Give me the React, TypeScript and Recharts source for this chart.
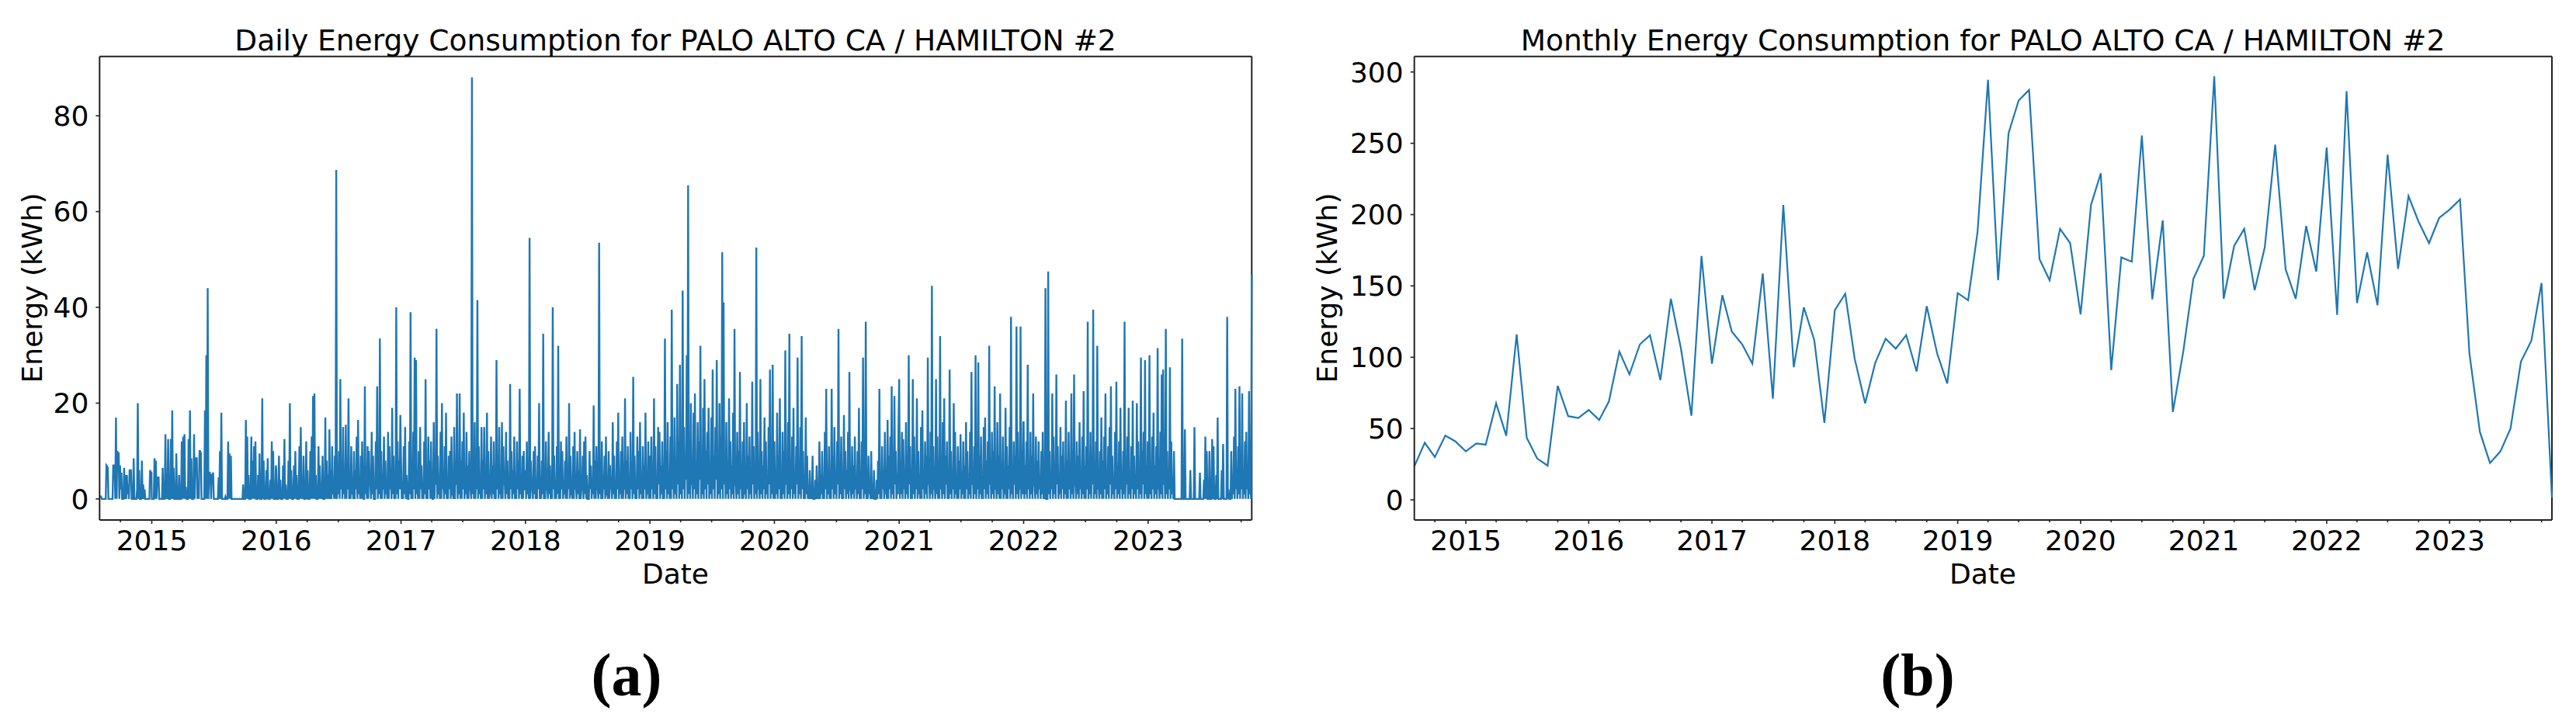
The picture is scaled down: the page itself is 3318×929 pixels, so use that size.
import React from 'react';
import { LineChart, Line, XAxis, YAxis, ReferenceLine } from 'recharts';

const BLUE = '#1f77b4';
const AXIS = '#222';
const FONT = '"DejaVu Sans", Verdana, sans-serif';
const DAY = 86400000;

// daily energy (kWh), one reading every 2 days
const daily2014 = [
  0.5, 0.5, 0.5, 0, 0, 0, 0, 0, 0, 0, 7, 6.8, 6.5, 0, 0, 0, 0, 0, 0, 0,
  7, 7, 7, 0, 17, 0, 10, 9.5, 9.5, 0, 7, 2, 5.5, 0, 0, 0, 6.5, 0, 5, 0,
  5, 1, 3, 0, 6, 6, 6, 0, 0, 0, 8.5, 0, 0, 0, 0, 2, 20, 0, 6, 0,
  0, 0, 8, 0, 3, 0, 2, 0, 0, 0, 0, 0, 0, 0, 6, 5.5, 5.5,
];
const daily2015 = [
  0, 0, 0, 0, 8.5, 0, 8, 0, 4.5, 4.5, 4.5, 0, 0, 0, 0, 0, 6.5, 0, 0, 0,
  13.5, 0, 5, 0, 12.5, 0, 0, 0, 12.5, 0, 18.5, 0, 6.5, 0, 0, 0, 9.5, 0, 0, 0,
  5, 0, 0, 0, 12, 0, 13, 0, 13.5, 0, 2.5, 0, 0, 0, 12.5, 0, 18.5, 0, 8.5, 0,
  0, 0, 13.5, 0, 8.5, 8.5, 8.5, 0, 1.5, 0, 10, 10, 9.5, 0, 0, 0, 0, 0, 18.5, 0,
  30, 0, 44, 0, 5.5, 5.5, 5, 0, 5, 5, 5.5, 0, 0, 0, 0, 0, 0, 0, 4.5, 0,
  10, 0, 18, 0, 0, 0, 0, 0, 0.5, 0, 0, 0, 12, 0, 9.5, 0, 9, 0, 0, 0,
  0, 0, 0, 0, 0, 0, 0, 0, 0, 0, 0, 0, 0, 0, 3, 0, 0, 0, 16.5, 0,
  13, 0, 5, 0, 0, 0, 13, 0, 8, 0, 11, 0, 12, 0, 0, 0, 5, 0, 9.5, 0,
  0, 0, 21, 0, 8, 0, 0, 0, 6, 0, 8.5, 0, 0, 0, 4, 0, 12, 0, 10, 0,
  0, 0, 7,
];
const daily2016 = [
  6, 0, 0, 0, 9, 0, 4, 0, 0, 0, 7, 0, 12.5, 0, 3, 0, 0, 0, 8, 0,
  20, 0, 6, 0, 0, 0, 7, 0, 10, 0, 5, 0, 0, 0, 11, 0, 15, 0, 4, 0,
  9, 0, 0, 0, 12, 0, 6, 0, 0, 0, 10, 0, 13, 0, 21.5, 0, 22, 0, 5, 0,
  0, 0, 11, 0, 7, 0, 3, 0, 9, 0, 0, 0, 17, 0, 8, 0, 5, 0, 14.5, 0,
  6, 0, 11, 1, 2, 0, 9, 0, 68.7, 0, 4, 1, 10, 0, 25, 2, 8, 0, 15, 1,
  3, 0, 15.5, 0, 7, 2, 21, 0, 5, 0, 11, 1, 2, 0, 10, 0, 6, 2, 13, 0,
  16.5, 1, 4, 0, 9, 0, 12, 2, 0, 0, 23.5, 1, 7, 0, 11, 0, 10, 3, 3, 0,
  14, 1, 9, 0, 0, 0, 12, 2, 23.5, 0, 6, 1, 33.5, 0, 10, 0, 4, 2, 13, 0,
  8, 1, 2, 0, 14, 0, 11, 2, 6, 0, 19, 1, 9, 0, 3, 0, 40, 1, 12, 0,
  8, 2, 17.5,
];
const daily2017 = [
  8, 0, 2, 0, 11, 1, 15, 0, 5, 2, 0, 0, 12, 1, 39, 0, 6, 0, 14, 2,
  29.5, 0, 29, 1, 3, 0, 10, 0, 15, 2, 7, 0, 1, 0, 12, 1, 25, 0, 4, 0,
  13, 2, 8, 0, 12, 1, 0, 0, 16, 0, 6, 3, 35.5, 0, 9, 1, 3, 0, 14, 0,
  20, 2, 5, 0, 11, 1, 18, 0, 2, 0, 9, 2, 10, 0, 13, 1, 1, 0, 15, 0,
  6, 3, 22, 0, 4, 1, 22, 0, 8, 0, 12, 2, 18, 0, 3, 1, 14, 0, 7, 0,
  10, 2, 2, 0, 88, 1, 9, 0, 16, 0, 5, 2, 41.5, 0, 11, 1, 3, 0, 15, 0,
  8, 2, 15, 0, 4, 1, 18, 0, 10, 0, 1, 2, 13, 0, 7, 1, 12, 0, 3, 0,
  29, 2, 9, 0, 15, 1, 2, 0, 16, 0, 11, 3, 4, 0, 14, 1, 8, 0, 1, 0,
  24, 2, 10, 0, 6, 1, 13, 0, 3, 0, 12, 2, 8, 0, 23, 1, 5, 0, 9, 0,
  10, 2, 2,
];
const daily2018 = [
  6, 0, 12, 1, 3, 0, 54.5, 0, 8, 2, 2, 0, 10, 1, 11, 0, 4, 0, 9, 2,
  20, 0, 1, 0, 8, 1, 34.5, 0, 5, 0, 12, 2, 2, 0, 14, 1, 7, 0, 3, 0,
  40, 2, 9, 0, 1, 0, 11, 1, 32, 0, 6, 0, 12, 2, 10, 0, 2, 1, 8, 0,
  13, 0, 4, 2, 20, 0, 9, 1, 1, 0, 11, 0, 14, 2, 3, 0, 10, 1, 6, 0,
  14.5, 0, 2, 2, 9, 0, 12, 1, 13, 0, 5, 0, 0, 0, 10, 2, 7, 0, 3, 1,
  19.5, 0, 8, 0, 11, 2, 2, 0, 53.5, 1, 6, 0, 12, 0, 4, 2, 9, 0, 13, 1,
  1, 0, 10, 0, 7, 2, 3, 0, 16, 1, 9, 0, 2, 0, 12, 2, 18, 0, 5, 1,
  10, 0, 13, 0, 3, 2, 21, 0, 8, 1, 11, 0, 2, 0, 14, 2, 6, 0, 25.5, 1,
  9, 0, 3, 0, 13, 2, 10, 0, 16, 1, 4, 0, 11, 0, 7, 2, 18, 0, 2, 1,
  12, 0, 8,
];
const daily2019 = [
  9, 0, 13, 2, 4, 0, 21, 1, 11, 0, 2, 0, 15, 3, 14, 0, 7, 1, 12, 0,
  3, 0, 33.5, 2, 10, 0, 16, 1, 5, 0, 13, 0, 39.5, 2, 8, 0, 17, 1, 3, 0,
  24, 3, 12, 0, 28, 1, 6, 0, 43.5, 2, 15, 0, 9, 4, 30, 0, 65.5, 1, 11, 0,
  20, 3, 4, 0, 18, 2, 22, 0, 7, 1, 16, 0, 12, 4, 32, 0, 3, 1, 19, 0,
  25, 2, 10, 0, 14, 3, 19, 0, 5, 1, 17, 0, 27, 2, 9, 0, 15, 4, 29, 0,
  6, 1, 20, 0, 13, 2, 51.5, 0, 41, 3, 8, 0, 16, 1, 4, 0, 21, 2, 12, 0,
  7, 1, 18, 0, 35.5, 3, 3, 0, 14, 1, 10, 0, 26.5, 2, 5, 0, 12, 0, 16, 1,
  2, 0, 20, 2, 9, 0, 13, 1, 4, 0, 24.5, 3, 11, 0, 6, 1, 52.5, 0, 14, 2,
  3, 0, 25, 1, 10, 0, 7, 2, 17, 0, 12, 1, 4, 0, 15, 3, 27, 0, 8, 1,
  28, 0, 11,
];
const daily2020 = [
  12, 0, 5, 1, 18, 0, 9, 2, 21, 0, 3, 0, 14, 1, 10, 0, 31, 3, 6, 0,
  16, 1, 34.5, 0, 8, 2, 13, 0, 19, 1, 4, 0, 11, 3, 29.5, 0, 7, 1, 15, 0,
  34, 2, 10, 0, 3, 0, 17, 1, 9, 0, 2, 0, 6, 0, 1, 0, 9, 0, 0, 0,
  4, 0, 7, 0, 1, 0, 12, 0, 5, 1, 10, 0, 3, 0, 14, 2, 23, 0, 6, 1,
  11, 0, 2, 0, 23, 2, 9, 0, 15, 1, 4, 0, 12, 3, 35.5, 0, 8, 1, 13, 0,
  3, 0, 17.5, 2, 10, 0, 6, 1, 14, 0, 26.5, 2, 2, 0, 11, 1, 7, 0, 13, 2,
  4, 0, 10, 1, 19, 0, 3, 0, 12, 2, 29.5, 0, 8, 1, 37, 0, 5, 0, 9, 1,
  2, 0, 10, 0, 1, 0, 6, 0, 0, 0, 4, 0, 8, 1, 23, 0, 3, 0, 11, 2,
  6, 0, 14, 1, 2, 0, 16.5, 0, 9, 2, 13, 0, 23.5, 1, 5, 0, 21.5, 3, 10, 0,
  3, 1, 15,
];
const daily2021 = [
  25, 0, 8, 1, 14, 0, 12.5, 2, 4, 0, 16, 1, 9, 0, 30, 3, 11, 0, 3, 0,
  25, 1, 13, 0, 7, 2, 21, 0, 10, 1, 2, 0, 15, 0, 18.5, 2, 6, 0, 12, 1,
  9, 0, 29.5, 3, 4, 0, 14, 1, 44.5, 0, 11, 2, 3, 0, 25, 1, 13, 0, 8, 0,
  34, 2, 5, 0, 16, 1, 21, 0, 9, 3, 12, 0, 3, 0, 27, 1, 10, 0, 6, 2,
  20, 0, 14, 1, 2, 0, 11, 0, 8, 2, 13.5, 0, 4, 1, 12, 0, 7, 0, 16, 2,
  10, 0, 2, 1, 14, 0, 26.5, 3, 6, 0, 11, 1, 30, 0, 4, 2, 28.5, 0, 9, 1,
  13, 0, 3, 0, 15, 2, 17, 0, 8, 1, 12, 0, 32, 3, 5, 0, 14, 1, 10, 0,
  23.5, 2, 3, 0, 16, 1, 9, 0, 22, 0, 6, 2, 13, 0, 2, 1, 19, 0, 11, 0,
  7, 2, 15, 0, 38, 1, 4, 0, 12, 3, 9, 0, 36, 1, 14, 0, 3, 2, 36, 0,
  10, 1, 16,
];
const daily2022 = [
  16, 0, 7, 1, 12, 0, 28, 2, 5, 0, 14, 1, 9, 0, 22, 3, 3, 0, 13, 1,
  8, 0, 12, 2, 4, 0, 10, 1, 14, 0, 2, 0, 44, 0, 0, 0, 47.5, 1, 10, 0,
  5, 2, 22, 0, 13, 1, 7, 0, 26, 3, 11, 0, 3, 1, 15, 0, 9, 2, 12, 0,
  4, 1, 20.5, 0, 8, 0, 14, 2, 6, 0, 22, 1, 10, 0, 26, 3, 3, 0, 12, 1,
  9, 0, 16, 2, 5, 0, 13, 1, 22.5, 0, 7, 0, 11, 2, 37, 0, 4, 1, 14, 0,
  9, 3, 39.5, 0, 6, 1, 12, 0, 32, 2, 3, 0, 10, 1, 17, 0, 8, 0, 13, 2,
  22, 0, 5, 1, 11, 0, 15, 3, 23.5, 0, 9, 1, 3, 0, 14, 2, 24.5, 0, 7, 1,
  12, 0, 19, 2, 4, 0, 10, 1, 37, 0, 8, 3, 13, 0, 19, 1, 5, 0, 11, 2,
  20.5, 0, 9, 1, 3, 0, 20, 2, 12, 0, 6, 1, 29.5, 0, 10, 3, 14, 0, 29, 1,
  7, 0, 12,
];
const daily2023 = [
  9, 0, 30, 1, 4, 0, 13, 2, 18, 0, 7, 1, 11, 0, 31.5, 2, 3, 0, 14, 1,
  26, 0, 27, 3, 6, 0, 35.5, 1, 10, 0, 4, 2, 27.5, 0, 12, 1, 3, 0, 10, 0,
  0, 0, 0, 0, 0, 0, 0, 0, 0, 0, 33.5, 0, 0, 0, 14.5, 0, 0, 0, 0, 0,
  0, 0, 6, 0, 0, 0, 0, 0, 15, 0, 0, 0, 0, 0, 0, 0, 5.5, 0, 0, 0,
  0, 0, 4, 0, 13, 0, 10, 0, 0, 0, 10, 0, 0, 0, 12.5, 0, 11, 0, 0, 0,
  5, 0, 17, 0, 0, 0, 0, 0, 6, 0, 11.5, 0, 0, 0, 0, 0, 38, 0, 2, 0,
  0, 0, 10, 0, 4, 1, 13, 0, 23, 2, 6, 0, 11, 1, 23.5, 0, 9, 2, 22, 0,
  3, 1, 12, 0, 14, 2, 5, 0, 22.5, 1, 4, 0, 46.8,
];

// monthly totals (kWh), Aug 2014 .. Nov 2023
const monthly = [
  23.5, 40, 30, 45, 41,
  34, 39.6, 38.7, 67.7, 45, 116, 43.5, 29, 24, 80, 58.7, 57.4,
  63, 56, 69, 104, 88, 109, 115.5, 84, 141, 106, 59, 171,
  95.5, 143.5, 118, 109, 95.5, 158.7, 71, 206.8, 93, 135, 112, 54,
  133, 144.5, 99, 67.7, 96, 113, 106, 115.5, 90, 135.8, 102.6, 81.6,
  145, 140, 188, 294.5, 154, 257, 280, 287.4, 168.7, 154, 190, 180,
  130, 206.8, 229, 91, 170, 167, 255.5, 140.6, 196, 61.6, 104, 155,
  171, 297, 141, 178, 190, 147, 177, 249, 161.6, 141, 192, 160,
  247, 129.7, 286.5, 138, 173.5, 136.5, 242, 162, 213, 195, 180, 197.7,
  203.5, 210.6, 102.6, 47.7, 25.8, 34, 50, 97, 111.6, 152, 1.6,
];

const years = [2015, 2016, 2017, 2018, 2019, 2020, 2021, 2022, 2023];
const dailyTicks = [0, 20, 40, 60, 80];
const monthlyTicks = [0, 50, 100, 150, 200, 250, 300];

const every2 = (start: number, vals: number[]) => vals.map((v, i) => ({ t: start + i * 2 * DAY, v }));

const dailyData = [
  ...every2(Date.UTC(2014, 7, 1), daily2014),
  ...every2(Date.UTC(2015, 0, 1), daily2015),
  ...every2(Date.UTC(2016, 0, 1), daily2016),
  ...every2(Date.UTC(2017, 0, 1), daily2017),
  ...every2(Date.UTC(2018, 0, 1), daily2018),
  ...every2(Date.UTC(2019, 0, 1), daily2019),
  ...every2(Date.UTC(2020, 0, 1), daily2020),
  ...every2(Date.UTC(2021, 0, 1), daily2021),
  ...every2(Date.UTC(2022, 0, 1), daily2022),
  ...every2(Date.UTC(2023, 0, 1), daily2023),
];
const monthlyData = monthly.map((v, i) => ({ t: Date.UTC(2014, 7 + i, 1), v }));

const X0 = Date.UTC(2014, 7, 1);
const X1 = Date.UTC(2023, 10, 1);

// year ticks plus quarterly minor ticks
const dateTicks: number[] = [Date.UTC(2014, 9, 1)];
years.forEach((y) => [0, 3, 6, 9].forEach((m) => dateTicks.push(Date.UTC(y, m, 1))));

const DateTick = (props: any) => {
  const { x, y, payload } = props;
  const d = new Date(payload.value);
  const major = d.getUTCMonth() === 0;
  return (
    <g>
      <line x1={x} x2={x} y1={y} y2={y + (major ? 5 : 3)} stroke={AXIS} strokeWidth={1.6} />
      {major && (
        <text x={x} y={y + 39} textAnchor="middle" fontSize={36} fontFamily={FONT} fill="#000">
          {d.getUTCFullYear()}
        </text>
      )}
    </g>
  );
};

function Panel({ data, left, width, yWidth, right, yDomain, yTicks, strokeWidth }: any) {
  return (
    <div style={{ position: 'absolute', left, top: 0 }}>
      <LineChart width={width} height={780} data={data} margin={{ top: 72.7, right, bottom: 50, left: 0 }}>
        <XAxis
          dataKey="t"
          type="number"
          domain={[X0, X1]}
          ticks={dateTicks}
          tick={<DateTick />}
          tickLine={false}
          tickSize={0}
          tickMargin={0}
          interval={0}
          height={60}
          axisLine={{ stroke: AXIS, strokeWidth: 2 }}
        />
        <YAxis
          type="number"
          domain={yDomain}
          ticks={yTicks}
          interval={0}
          width={yWidth}
          tickSize={5}
          tickMargin={9}
          tick={{ fontSize: 36, fill: '#000', fontFamily: FONT }}
          tickLine={{ stroke: AXIS, strokeWidth: 1.6 }}
          axisLine={{ stroke: AXIS, strokeWidth: 2 }}
        />
        <ReferenceLine y={yDomain[1]} stroke={AXIS} strokeWidth={2} />
        <ReferenceLine x={X1} stroke={AXIS} strokeWidth={2} />
        <Line type="linear" dataKey="v" stroke={BLUE} strokeWidth={strokeWidth} dot={false} isAnimationActive={false} />
      </LineChart>
    </div>
  );
}

export default function App() {
  const txt = { fontFamily: FONT, fill: '#000' };
  const serif = { fontFamily: '"Liberation Serif", serif', fill: '#000', fontWeight: 700 };
  return (
    <div style={{ position: 'absolute', left: 0, top: 0, width: 3318, height: 929, background: '#fff', overflow: 'hidden' }}>
      <Panel data={dailyData} left={0} width={1660} yWidth={128.3} right={47.7} yDomain={[-4.4, 92.4]} yTicks={dailyTicks} strokeWidth={2.4} />
      <Panel data={monthlyData} left={1660} width={1658} yWidth={161.7} right={31} yDomain={[-14.1, 310.9]} yTicks={monthlyTicks} strokeWidth={2.2} />
      <svg width={3318} height={929} style={{ position: 'absolute', left: 0, top: 0, pointerEvents: 'none' }}>
        <text x={870} y={65} textAnchor="middle" fontSize={37.5} {...txt}>Daily Energy Consumption for PALO ALTO CA / HAMILTON #2</text>
        <text x={2554} y={65} textAnchor="middle" fontSize={37.5} {...txt}>Monthly Energy Consumption for PALO ALTO CA / HAMILTON #2</text>
        <text x={870} y={752} textAnchor="middle" fontSize={36} {...txt}>Date</text>
        <text x={2554} y={752} textAnchor="middle" fontSize={36} {...txt}>Date</text>
        <text transform="translate(54.4,371) rotate(-90)" textAnchor="middle" fontSize={36} {...txt}>Energy (kWh)</text>
        <text transform="translate(1722,371) rotate(-90)" textAnchor="middle" fontSize={36} {...txt}>Energy (kWh)</text>
        <text x={807} y={896} textAnchor="middle" fontSize={78} {...serif}>(a)</text>
        <text x={2470} y={896} textAnchor="middle" fontSize={78} {...serif}>(b)</text>
      </svg>
    </div>
  );
}
